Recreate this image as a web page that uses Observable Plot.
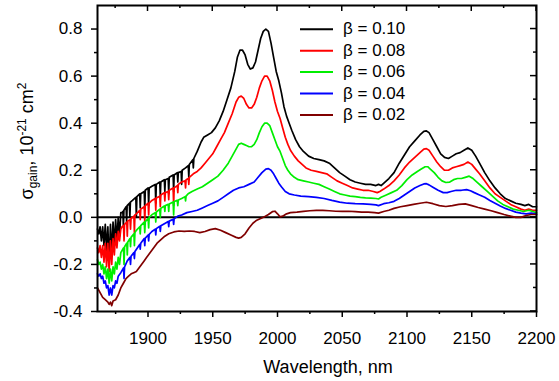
<!DOCTYPE html>
<html><head><meta charset="utf-8">
<script src="https://cdn.jsdelivr.net/npm/d3@7"></script>
<script src="https://cdn.jsdelivr.net/npm/@observablehq/plot@0.6"></script>
<style>body{margin:0;background:#fff}</style>
</head><body><div id="chart"></div>
<script>
// [wavelength nm, sigma_gain 1e-21 cm^2]
const beta010 = [[1861,-0.05],[1862,-0.07],[1863,-0.04],[1864,-0.10],[1865,-0.04],[1866,-0.12],[1867,-0.03],[1868,-0.14],[1869,-0.04],[1870,-0.20],[1871,-0.03],[1872,-0.16],[1873,-0.02],[1874,-0.12],[1875,-0.01],[1876,-0.10],[1877,0.00],[1878,-0.08],[1879,0.02],[1880,0.02],[1880.6,0.025],[1881,-0.04],[1881.4,0.03],[1883.1,0.045],[1883.5,-0.02],[1883.9,0.05],[1885.6,0.06],[1886,0.0],[1886.4,0.065],[1888,0.072],[1890.6,0.085],[1891,0.0],[1891.4,0.088],[1893.6,0.1],[1894,0.04],[1894.4,0.1],[1897.1,0.11],[1897.5,0.03],[1897.9,0.115],[1900.1,0.125],[1900.5,0.05],[1900.9,0.125],[1903,0.132],[1905.6,0.14],[1906,0.06],[1906.4,0.14],[1909.1,0.15],[1909.5,0.09],[1909.9,0.15],[1912.6,0.16],[1913,0.11],[1913.4,0.16],[1915.6,0.165],[1916,0.10],[1916.4,0.17],[1919.4,0.18],[1919.8,0.11],[1920.2,0.18],[1922.6,0.19],[1923,0.15],[1923.4,0.19],[1925.6,0.195],[1926,0.14],[1926.4,0.2],[1929,0.21],[1931.1,0.22],[1931.5,0.17],[1931.9,0.225],[1934.6,0.245],[1935,0.21],[1935.4,0.25],[1938,0.28],[1941,0.32],[1943,0.34],[1946,0.35],[1949,0.36],[1952,0.38],[1955,0.41],[1958,0.45],[1961,0.50],[1964,0.55],[1967,0.62],[1969,0.68],[1971,0.71],[1973,0.71],[1975,0.69],[1977,0.65],[1979,0.63],[1981,0.635],[1983,0.66],[1985,0.71],[1987,0.76],[1989,0.79],[1991,0.80],[1993,0.79],[1995,0.74],[1997,0.68],[1999,0.62],[2001,0.58],[2003,0.53],[2005,0.47],[2007,0.43],[2009,0.40],[2011,0.37],[2014,0.33],[2017,0.30],[2020,0.28],[2024,0.26],[2028,0.25],[2032,0.245],[2036,0.24],[2040,0.23],[2044,0.21],[2048,0.19],[2052,0.175],[2056,0.16],[2060,0.15],[2064,0.145],[2068,0.14],[2072,0.14],[2076,0.135],[2078,0.14],[2080,0.135],[2083,0.15],[2086,0.165],[2090,0.19],[2094,0.23],[2098,0.265],[2102,0.30],[2106,0.325],[2110,0.35],[2113,0.365],[2115,0.367],[2117,0.36],[2120,0.33],[2123,0.30],[2126,0.27],[2129,0.255],[2132,0.25],[2135,0.26],[2138,0.27],[2141,0.275],[2144,0.285],[2147,0.295],[2150,0.285],[2153,0.26],[2156,0.23],[2160,0.19],[2164,0.155],[2168,0.125],[2172,0.10],[2176,0.08],[2180,0.07],[2184,0.06],[2188,0.055],[2191,0.05],[2194,0.055],[2197,0.045],[2200,0.045]];
const beta008 = [[1861,-0.13],[1862,-0.15],[1863,-0.12],[1864,-0.17],[1865,-0.12],[1866,-0.19],[1867,-0.11],[1868,-0.21],[1869,-0.11],[1870,-0.23],[1871,-0.10],[1872,-0.20],[1873,-0.09],[1874,-0.16],[1875,-0.07],[1876,-0.13],[1877,-0.06],[1878,-0.10],[1879,-0.05],[1880,-0.04],[1881.1,-0.035],[1881.5,-0.10],[1881.9,-0.03],[1883.6,-0.02],[1884,-0.08],[1884.4,-0.015],[1886.1,-0.01],[1886.5,-0.05],[1886.9,-0.005],[1889.1,0.005],[1889.5,-0.065],[1889.9,0.01],[1891,0.015],[1893.6,0.03],[1894,-0.01],[1894.4,0.035],[1897.1,0.045],[1897.5,-0.02],[1897.9,0.05],[1900.1,0.06],[1900.5,0.01],[1900.9,0.06],[1903,0.072],[1905.6,0.08],[1906,0.03],[1906.4,0.082],[1909.1,0.09],[1909.5,0.045],[1909.9,0.095],[1912.6,0.105],[1913,0.07],[1913.4,0.105],[1915.6,0.11],[1916,0.075],[1916.4,0.115],[1919.4,0.125],[1919.8,0.05],[1920.2,0.125],[1922.6,0.135],[1923,0.105],[1923.4,0.14],[1926,0.15],[1928.6,0.155],[1929,0.125],[1929.4,0.16],[1931.1,0.165],[1931.5,0.14],[1931.9,0.17],[1935,0.185],[1938,0.195],[1941,0.21],[1944,0.23],[1947,0.25],[1950,0.27],[1953,0.30],[1956,0.33],[1959,0.36],[1962,0.40],[1965,0.44],[1968,0.49],[1970,0.51],[1972,0.515],[1974,0.505],[1976,0.48],[1978,0.465],[1980,0.465],[1982,0.48],[1984,0.51],[1986,0.55],[1988,0.58],[1990,0.60],[1992,0.60],[1994,0.58],[1996,0.54],[1998,0.49],[2000,0.45],[2002,0.42],[2004,0.38],[2006,0.34],[2008,0.31],[2010,0.285],[2013,0.26],[2016,0.24],[2019,0.225],[2022,0.21],[2026,0.20],[2030,0.195],[2034,0.19],[2038,0.185],[2042,0.17],[2046,0.155],[2050,0.145],[2054,0.135],[2058,0.125],[2062,0.12],[2066,0.115],[2070,0.115],[2074,0.11],[2077,0.105],[2079,0.11],[2082,0.12],[2086,0.135],[2090,0.155],[2094,0.18],[2098,0.21],[2102,0.235],[2106,0.255],[2110,0.275],[2113,0.29],[2115,0.292],[2117,0.285],[2120,0.26],[2123,0.235],[2126,0.215],[2129,0.20],[2132,0.20],[2135,0.21],[2138,0.215],[2141,0.22],[2144,0.225],[2147,0.235],[2150,0.225],[2153,0.205],[2156,0.185],[2160,0.155],[2164,0.125],[2168,0.10],[2172,0.085],[2176,0.07],[2180,0.055],[2184,0.045],[2188,0.035],[2191,0.03],[2194,0.035],[2197,0.03],[2200,0.03]];
const beta006 = [[1861,-0.18],[1862,-0.20],[1863,-0.19],[1864,-0.22],[1865,-0.20],[1866,-0.24],[1867,-0.21],[1868,-0.26],[1869,-0.22],[1870,-0.28],[1871,-0.22],[1872,-0.27],[1873,-0.21],[1874,-0.24],[1875,-0.19],[1876,-0.22],[1877,-0.17],[1878,-0.20],[1879,-0.15],[1881.1,-0.13],[1881.5,-0.20],[1881.9,-0.125],[1883.6,-0.11],[1884,-0.16],[1884.4,-0.105],[1886.1,-0.09],[1886.5,-0.125],[1886.9,-0.085],[1889.1,-0.07],[1889.5,-0.12],[1889.9,-0.065],[1891,-0.055],[1893.6,-0.04],[1894,-0.07],[1894.4,-0.035],[1897.1,-0.02],[1897.5,-0.065],[1897.9,-0.018],[1900.1,-0.005],[1900.5,-0.045],[1900.9,0.0],[1903,0.011],[1905.6,0.02],[1906,-0.02],[1906.4,0.022],[1909.1,0.035],[1909.5,0.0],[1909.9,0.038],[1912.6,0.048],[1913,0.025],[1913.4,0.05],[1915.6,0.055],[1916,0.025],[1916.4,0.057],[1919.4,0.065],[1919.8,0.01],[1920.2,0.067],[1922.6,0.072],[1923,0.05],[1923.4,0.074],[1926,0.08],[1928.6,0.088],[1929,0.07],[1929.4,0.09],[1931,0.10],[1934,0.11],[1938,0.12],[1942,0.13],[1946,0.145],[1950,0.16],[1954,0.175],[1958,0.20],[1962,0.23],[1965,0.26],[1968,0.29],[1970,0.31],[1972,0.315],[1974,0.31],[1976,0.305],[1978,0.30],[1980,0.30],[1982,0.31],[1984,0.33],[1986,0.36],[1988,0.385],[1990,0.40],[1992,0.40],[1994,0.39],[1996,0.36],[1998,0.33],[2000,0.30],[2002,0.28],[2004,0.25],[2006,0.22],[2008,0.20],[2010,0.185],[2013,0.17],[2016,0.16],[2020,0.155],[2024,0.15],[2028,0.145],[2032,0.14],[2036,0.13],[2040,0.12],[2044,0.11],[2048,0.10],[2052,0.095],[2056,0.09],[2060,0.088],[2064,0.085],[2068,0.083],[2072,0.082],[2076,0.08],[2078,0.078],[2080,0.085],[2084,0.095],[2088,0.105],[2092,0.115],[2096,0.135],[2100,0.16],[2104,0.18],[2108,0.195],[2111,0.205],[2114,0.215],[2116,0.215],[2118,0.205],[2121,0.19],[2124,0.17],[2127,0.155],[2130,0.148],[2133,0.15],[2136,0.16],[2139,0.165],[2142,0.165],[2145,0.17],[2148,0.175],[2151,0.165],[2154,0.15],[2158,0.13],[2162,0.11],[2166,0.09],[2170,0.07],[2174,0.055],[2178,0.045],[2182,0.035],[2186,0.03],[2190,0.025],[2194,0.03],[2197,0.025],[2200,0.02]];
const beta004 = [[1861,-0.24],[1862,-0.25],[1863,-0.24],[1864,-0.26],[1865,-0.25],[1866,-0.28],[1867,-0.27],[1868,-0.30],[1869,-0.29],[1870,-0.33],[1871,-0.30],[1872,-0.33],[1873,-0.29],[1874,-0.30],[1875,-0.27],[1876,-0.28],[1877,-0.25],[1879,-0.235],[1881.1,-0.215],[1881.5,-0.26],[1881.9,-0.21],[1884,-0.185],[1886.1,-0.17],[1886.5,-0.20],[1886.9,-0.165],[1889.1,-0.15],[1889.5,-0.175],[1889.9,-0.145],[1893.6,-0.115],[1894,-0.135],[1894.4,-0.11],[1897.1,-0.09],[1897.5,-0.12],[1897.9,-0.088],[1900.1,-0.075],[1900.5,-0.10],[1900.9,-0.072],[1903,-0.06],[1905.6,-0.05],[1906,-0.075],[1906.4,-0.048],[1909.1,-0.038],[1909.5,-0.06],[1909.9,-0.036],[1913,-0.026],[1915.6,-0.018],[1916,-0.04],[1916.4,-0.016],[1919.4,-0.008],[1919.8,-0.03],[1920.2,-0.006],[1923,0.005],[1926,0.01],[1930,0.02],[1934,0.025],[1938,0.03],[1942,0.04],[1946,0.05],[1950,0.06],[1954,0.07],[1958,0.085],[1962,0.10],[1966,0.115],[1970,0.125],[1974,0.13],[1978,0.14],[1982,0.15],[1985,0.17],[1988,0.19],[1991,0.205],[1993,0.207],[1995,0.20],[1997,0.185],[1999,0.165],[2001,0.145],[2003,0.13],[2006,0.11],[2009,0.10],[2013,0.095],[2018,0.09],[2024,0.088],[2030,0.085],[2036,0.08],[2042,0.072],[2048,0.065],[2054,0.06],[2060,0.058],[2066,0.057],[2072,0.055],[2076,0.053],[2078,0.05],[2082,0.058],[2086,0.062],[2090,0.068],[2094,0.08],[2098,0.095],[2102,0.11],[2106,0.125],[2110,0.135],[2113,0.142],[2115,0.143],[2117,0.138],[2120,0.128],[2124,0.115],[2128,0.105],[2131,0.105],[2134,0.11],[2138,0.115],[2142,0.115],[2146,0.118],[2149,0.113],[2152,0.105],[2156,0.095],[2160,0.085],[2164,0.072],[2168,0.06],[2172,0.048],[2176,0.038],[2180,0.03],[2184,0.022],[2188,0.018],[2192,0.015],[2196,0.018],[2200,0.014]];
const beta002 = [[1861,-0.30],[1863,-0.32],[1865,-0.34],[1867,-0.35],[1869,-0.36],[1870,-0.37],[1871,-0.36],[1872,-0.375],[1873,-0.355],[1875,-0.35],[1877,-0.33],[1879,-0.30],[1881,-0.28],[1883,-0.26],[1885,-0.25],[1887,-0.24],[1889,-0.235],[1891,-0.23],[1893,-0.215],[1895,-0.20],[1897,-0.185],[1899,-0.17],[1901,-0.155],[1903,-0.14],[1905,-0.125],[1907,-0.11],[1910,-0.095],[1913,-0.08],[1916,-0.07],[1920,-0.062],[1924,-0.058],[1928,-0.06],[1932,-0.058],[1936,-0.06],[1940,-0.065],[1944,-0.06],[1948,-0.052],[1952,-0.048],[1956,-0.055],[1960,-0.065],[1964,-0.075],[1968,-0.085],[1970,-0.088],[1972,-0.085],[1975,-0.07],[1978,-0.045],[1981,-0.025],[1984,-0.012],[1987,-0.005],[1990,0.003],[1993,0.012],[1996,0.024],[1998,0.026],[2000,0.015],[2002,0.002],[2004,0.005],[2007,0.015],[2010,0.02],[2015,0.022],[2020,0.025],[2025,0.028],[2030,0.03],[2035,0.03],[2040,0.028],[2045,0.026],[2050,0.025],[2055,0.026],[2060,0.024],[2065,0.022],[2070,0.022],[2075,0.02],[2078,0.018],[2082,0.025],[2086,0.03],[2090,0.038],[2095,0.045],[2100,0.05],[2105,0.055],[2110,0.06],[2115,0.064],[2120,0.058],[2125,0.05],[2130,0.046],[2135,0.05],[2140,0.055],[2145,0.057],[2150,0.05],[2155,0.042],[2160,0.035],[2165,0.028],[2170,0.02],[2175,0.012],[2180,0.005],[2184,0.0],[2188,0.0],[2192,0.008],[2196,0.012],[2200,0.012]];

const labels = ["β = 0.10","β = 0.08","β = 0.06","β = 0.04","β = 0.02"];
const colors = ["#000000","#ff0000","#00ee00","#0000ff","#800000"];
const seriesData = [beta010, beta008, beta006, beta004, beta002];

const xMajor = [1900,1950,2000,2050,2100,2150,2200];
const xMinor = [1875,1925,1975,2025,2075,2125,2175];
const yMajor = [-0.4,-0.2,0.0,0.2,0.4,0.6,0.8];
const yMinor = [-0.3,-0.1,0.1,0.3,0.5,0.7];

const FONT = "'Liberation Sans', Arial, Helvetica, sans-serif";

const chart = Plot.plot({
  width: 559, height: 381,
  marginTop: 5, marginRight: 23, marginBottom: 70, marginLeft: 97,
  style: {fontFamily: FONT, fontSize: "17px", background: "white", color: "black"},
  x: {domain: [1861, 2200]},
  y: {domain: [-0.4, 0.9]},
  marks: [
    Plot.ruleY([0], {stroke: "black", strokeWidth: 2}),
    ...seriesData.map((s, i) => Plot.line(s, {x: d => d[0], y: d => d[1], stroke: colors[i], strokeWidth: 1.7, strokeLinejoin: "round"})),
    Plot.axisX({ticks: xMajor, tickSize: 6, tickPadding: 14, tickFormat: d => String(d), label: null, fontSize: 17, strokeWidth: 1.5}),
    Plot.axisX({ticks: xMinor, tickSize: 3, tickFormat: () => "", label: null, strokeWidth: 1.5}),
    Plot.axisY({ticks: yMajor, tickSize: 6, tickPadding: 9, tickFormat: d => d.toFixed(1), label: null, fontSize: 17, strokeWidth: 1.5}),
    Plot.axisY({ticks: yMinor, tickSize: 3, tickFormat: () => "", label: null, strokeWidth: 1.5}),
    Plot.frame({stroke: "black", strokeWidth: 2})
  ]
});

document.getElementById("chart").appendChild(chart);

const sx = chart.scale("x"), sy = chart.scale("y");
const [yBot, yTop] = sy.range;
const [xL, xR] = sx.range;
const svg = d3.select(chart);
const tg = svg.append("g").attr("stroke", "black").attr("stroke-width", 1.5);
// mirrored inward ticks on top and right
xMajor.forEach(v => tg.append("line").attr("x1", sx.apply(v)).attr("x2", sx.apply(v)).attr("y1", yTop).attr("y2", yTop + 6));
xMinor.forEach(v => tg.append("line").attr("x1", sx.apply(v)).attr("x2", sx.apply(v)).attr("y1", yTop).attr("y2", yTop + 3));
yMajor.forEach(v => tg.append("line").attr("y1", sy.apply(v)).attr("y2", sy.apply(v)).attr("x1", xR).attr("x2", xR - 6));
yMinor.forEach(v => tg.append("line").attr("y1", sy.apply(v)).attr("y2", sy.apply(v)).attr("x1", xR).attr("x2", xR - 3));

// axis titles
svg.append("text").attr("x", 328).attr("y", 373).attr("text-anchor", "middle")
  .attr("font-family", FONT).attr("font-size", 18).attr("fill", "black").text("Wavelength, nm");

const yt = svg.append("text").attr("transform", "translate(33,141) rotate(-90)").attr("text-anchor", "middle")
  .attr("font-family", FONT).attr("font-size", 18).attr("fill", "black");
yt.append("tspan").text("σ");
yt.append("tspan").attr("font-size", 12).attr("dy", 4).text("gain");
yt.append("tspan").attr("dy", -4).text(", 10");
yt.append("tspan").attr("font-size", 12).attr("dy", -7).text("-21");
yt.append("tspan").attr("dy", 7).text(" cm");
yt.append("tspan").attr("font-size", 12).attr("dy", -7).text("2");

// legend
const lg = svg.append("g").attr("font-family", FONT).attr("font-size", 17).attr("text-anchor", "start");
labels.forEach((lab, i) => {
  const by = 34.3 + i * 21.4;
  lg.append("line").attr("x1", 300).attr("x2", 333).attr("y1", by - 5).attr("y2", by - 5)
    .attr("stroke", colors[i]).attr("stroke-width", 2);
  lg.append("text").attr("x", 343).attr("y", by).attr("text-anchor", "start").attr("fill", "black").text(lab);
});
</script>
</body></html>
